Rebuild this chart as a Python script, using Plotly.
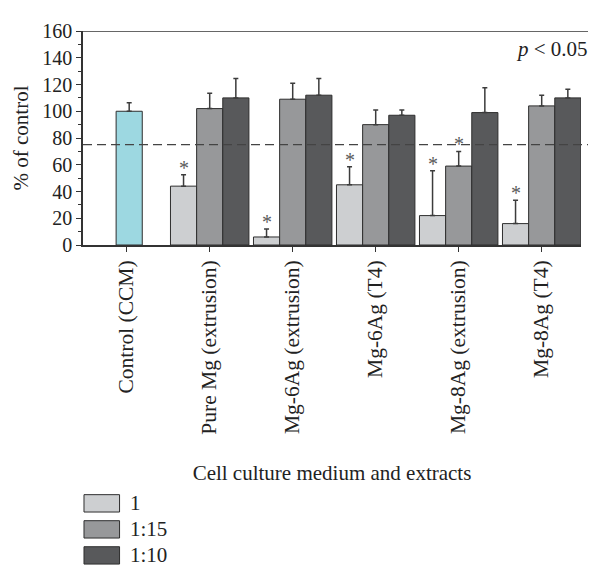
import plotly.graph_objects as go

# ---- data ----
categories = ["Control (CCM)", "Pure Mg (extrusion)", "Mg-6Ag (extrusion)",
              "Mg-6Ag (T4)", "Mg-8Ag (extrusion)", "Mg-8Ag (T4)"]
control_value = [100]
control_err = [6.4]

series_names = ["1", "1:15", "1:10"]
series_1 = [None, 44, 6, 45, 22, 16]
series_1_15 = [None, 102, 109, 90, 59, 104]
series_1_10 = [None, 110, 112, 97, 99, 110]
err_1 = [None, 8.5, 6, 13.5, 33.5, 17.5]
err_1_15 = [None, 11.5, 12, 11, 11, 8]
err_1_10 = [None, 14.5, 12.5, 4, 18.5, 6.5]
sig_1 = [False, True, True, True, True, True]
sig_1_15 = [False, False, False, False, True, False]
sig_1_10 = [False, False, False, False, False, False]

threshold = 75
y_ticks = [0, 20, 40, 60, 80, 100, 120, 140, 160]

# ---- styles ----
FONT = "Liberation Serif, Times New Roman, serif"
TXT = "#222222"
colors = ["#cdcfd1", "#97989a", "#58595b"]
control_color = "#9dd8e1"
outline = "#2e2e2e"
err_color = "#3c3c3c"
bar_w = 0.315
offsets = [-0.47, -0.155, 0.16]

x_idx = list(range(len(categories)))

fig = go.Figure()

fig.add_trace(go.Bar(
    x=[0], y=control_value, width=[bar_w], offset=-0.125,
    marker=dict(color=control_color, line=dict(color=outline, width=1)),
    error_y=dict(type="data", symmetric=False, array=control_err, arrayminus=[0],
                 color=err_color, thickness=1.5, width=2.5),
    showlegend=False, name="Control"))

all_vals = [series_1, series_1_15, series_1_10]
all_errs = [err_1, err_1_15, err_1_10]
all_sigs = [sig_1, sig_1_15, sig_1_10]

for name, vals, errs, col, off in zip(series_names, all_vals, all_errs, colors, offsets):
    fig.add_trace(go.Bar(
        x=x_idx, y=vals, width=bar_w, offset=off, name=name,
        marker=dict(color=col, line=dict(color=outline, width=1)),
        error_y=dict(type="data", symmetric=False,
                     array=[e if e is not None else 0 for e in errs],
                     arrayminus=[0] * len(errs),
                     color=err_color, thickness=1.5, width=2.5),
        showlegend=False))

# asterisks
for vals, errs, sigs, off in zip(all_vals, all_errs, all_sigs, offsets):
    for i, (v, e, s) in enumerate(zip(vals, errs, sigs)):
        if s:
            fig.add_annotation(x=i + off + bar_w / 2, y=v + e, text="*",
                               showarrow=False, yanchor="bottom", yshift=-6,
                               font=dict(family=FONT, size=20, color="#5a5a5a"))

# dashed threshold line and top frame line
fig.add_shape(type="line", xref="paper", x0=0, x1=1.03, yref="y",
              y0=threshold, y1=threshold,
              line=dict(color="#444444", width=1.2, dash="9px,5px"))
fig.add_shape(type="line", xref="paper", x0=0, x1=1.03, yref="y",
              y0=160, y1=160, line=dict(color="#333333", width=1.5))

# p value
fig.add_annotation(xref="paper", x=1.018, xanchor="right", yref="y", y=146.5,
                   yanchor="middle", text="<i>p</i> &lt; 0.05", showarrow=False,
                   font=dict(family=FONT, size=21, color=TXT))

# manual legend (boxes + labels), positions relative to the plot area
plot_h = 222.0
def py_to_paper(py):
    return (245 - py) / plot_h
def px_to_paper(px):
    return (px - 77) / 504.0

box_tops = [504, 531, 558]
for name, col, top in zip(series_names, colors, box_tops):
    fig.add_shape(type="rect", xref="paper", yref="paper",
                  x0=px_to_paper(78), x1=px_to_paper(114),
                  y0=py_to_paper(top), y1=py_to_paper(top + 18),
                  fillcolor=col, line=dict(color=outline, width=1))
    fig.add_annotation(xref="paper", yref="paper", x=px_to_paper(123),
                       y=py_to_paper(top + 9), xanchor="left", yanchor="middle",
                       text=name, showarrow=False,
                       font=dict(family=FONT, size=21, color=TXT))

fig.update_layout(
    width=588, height=569,
    margin=dict(l=69, r=15, t=15, b=332),
    paper_bgcolor="white", plot_bgcolor="white",
    barmode="overlay",
    font=dict(family=FONT, size=21, color=TXT),
    xaxis=dict(
        range=[-0.524, 5.476], tickvals=x_idx, ticktext=categories,
        tickangle=-90, ticks="outside", ticklen=5, tickcolor="#333333",
        showline=True, linecolor="#333333", linewidth=1.5,
        showgrid=False, zeroline=False,
        title=dict(text="Cell culture medium and extracts", standoff=32,
                   font=dict(family=FONT, size=21)),
        tickfont=dict(family=FONT, size=21.5)),
    yaxis=dict(
        range=[0, 160], tickvals=y_ticks, ticks="outside", ticklen=5,
        tickcolor="#333333",
        minor=dict(dtick=10, ticks="outside", ticklen=3, tickcolor="#333333"),
        showline=True, linecolor="#333333", linewidth=1.5,
        showgrid=False, zeroline=False,
        title=dict(text="% of control", standoff=8, font=dict(family=FONT, size=21)),
        tickfont=dict(family=FONT, size=20)),
)

fig.write_html("out.html")
